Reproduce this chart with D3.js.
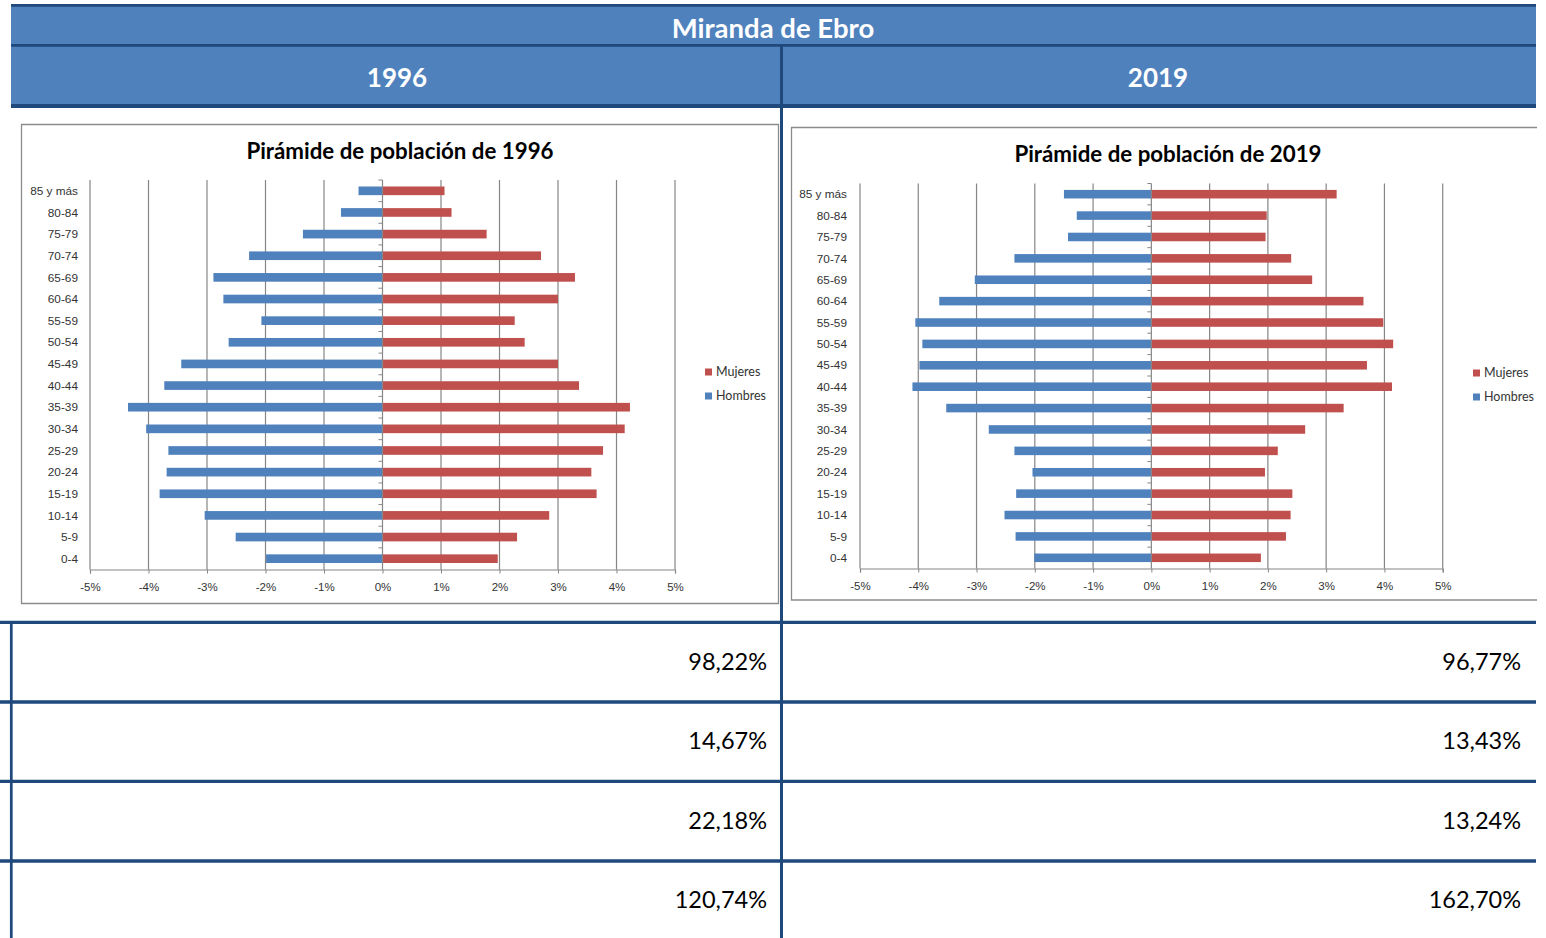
<!DOCTYPE html>
<html>
<head>
<meta charset="utf-8">
<script src="https://cdn.jsdelivr.net/npm/d3@7"></script>
<style>
  body { margin: 0; background: #fff; }
  svg { display: block; font-family: Lato, "Open Sans", sans-serif; }
  .tick text { fill: #333; }
</style>
</head>
<body>
<svg id="chart" width="1546" height="938"></svg>
<script>
// age groups, top to bottom
var ageGroups = ['85 y más', '80-84', '75-79', '70-74', '65-69', '60-64', '55-59', '50-54', '45-49',
  '40-44', '35-39', '30-34', '25-29', '20-24', '15-19', '10-14', '5-9', '0-4'];

// percentages of total population (hombres drawn to the left)
var hombres1996 = [0.41, 0.71, 1.36, 2.28, 2.89, 2.72, 2.07, 2.63, 3.44, 3.73, 4.35, 4.04, 3.66, 3.69, 3.81, 3.04, 2.51, 1.99];
var mujeres1996 = [1.06, 1.18, 1.78, 2.71, 3.29, 3.00, 2.26, 2.43, 3.00, 3.36, 4.23, 4.14, 3.77, 3.57, 3.66, 2.85, 2.30, 1.97];
var hombres2019 = [1.50, 1.28, 1.43, 2.35, 3.03, 3.64, 4.05, 3.93, 3.98, 4.10, 3.52, 2.79, 2.35, 2.04, 2.32, 2.52, 2.33, 2.01];
var mujeres2019 = [3.18, 1.98, 1.96, 2.40, 2.76, 3.64, 3.98, 4.15, 3.70, 4.13, 3.30, 2.64, 2.17, 1.95, 2.42, 2.39, 2.31, 1.88];

var xTicks = [-5, -4, -3, -2, -1, 0, 1, 2, 3, 4, 5];
var seriesNames = ['Mujeres', 'Hombres'];

var years = ['1996', '2019'];
var indicadores1996 = ['98,22%', '14,67%', '22,18%', '120,74%'];
var indicadores2019 = ['96,77%', '13,43%', '13,24%', '162,70%'];

var blue = '#4f81bd', red = '#c0504d', navy = '#1f497d', grid = '#868686';

var svg = d3.select('#chart');

// ---- header bands ----
svg.append('rect').attr('x', 11).attr('y', 4).attr('width', 1525).attr('height', 103).attr('fill', blue);
[[5.3, 2.7], [45.4, 2.7], [106, 4]].forEach(function (l) {
  svg.append('line')
    .attr('x1', 11).attr('x2', 1536).attr('y1', l[0]).attr('y2', l[0])
    .attr('stroke', navy).attr('stroke-width', l[1]);
});

svg.append('text')
  .attr('x', 773).attr('y', 27)
  .attr('text-anchor', 'middle').attr('dominant-baseline', 'central')
  .attr('fill', '#fff').attr('font-weight', 'bold').attr('font-size', 27.5)
  .text('Miranda de Ebro');

svg.append('text')
  .attr('x', 397).attr('y', 77)
  .attr('text-anchor', 'middle').attr('dominant-baseline', 'central')
  .attr('fill', '#fff').attr('font-weight', 'bold').attr('font-size', 26)
  .text(years[0]);

svg.append('text')
  .attr('x', 1158).attr('y', 77)
  .attr('text-anchor', 'middle').attr('dominant-baseline', 'central')
  .attr('fill', '#fff').attr('font-weight', 'bold').attr('font-size', 26)
  .text(years[1]);

// vertical divider
svg.append('line')
  .attr('x1', 781.5).attr('x2', 781.5).attr('y1', 46).attr('y2', 938)
  .attr('stroke', navy).attr('stroke-width', 3);

// ---- pyramids ----
function drawPyramid(opt) {
  var g = svg.append('g');

  g.append('path')
    .attr('d', opt.box)
    .attr('fill', 'none').attr('stroke', '#8c8c8c').attr('stroke-width', 1.3);

  g.append('text')
    .attr('x', opt.titleX).attr('y', opt.titleY)
    .attr('text-anchor', 'middle').attr('dominant-baseline', 'central')
    .attr('font-weight', 'bold').attr('font-size', 22.3).attr('fill', '#000')
    .text('Pirámide de población de ' + opt.year);

  var x = d3.scaleLinear().domain([-5, 5]).range([opt.left, opt.right]);
  var y = d3.scaleBand().domain(ageGroups).range([opt.top, opt.bottom])
    .paddingInner(0.6).paddingOuter(0.3);

  // gridlines
  g.append('g')
    .selectAll('line')
    .data(xTicks.filter(function (d) { return d !== 0; }))
    .enter().append('line')
    .attr('x1', function (d) { return x(d); })
    .attr('x2', function (d) { return x(d); })
    .attr('y1', opt.top).attr('y2', opt.bottom)
    .attr('stroke', grid).attr('stroke-width', 1.2);

  // bars
  g.append('g').selectAll('rect')
    .data(opt.hombres)
    .enter().append('rect')
    .attr('x', function (d) { return x(-d); })
    .attr('y', function (d, i) { return y(ageGroups[i]); })
    .attr('width', function (d) { return x(0) - x(-d); })
    .attr('height', y.bandwidth())
    .attr('fill', blue);

  g.append('g').selectAll('rect')
    .data(opt.mujeres)
    .enter().append('rect')
    .attr('x', x(0))
    .attr('y', function (d, i) { return y(ageGroups[i]); })
    .attr('width', function (d) { return x(d) - x(0); })
    .attr('height', y.bandwidth())
    .attr('fill', red);

  // x axis
  var xAxis = g.append('g')
    .attr('transform', 'translate(0,' + opt.bottom + ')')
    .call(d3.axisBottom(x).tickValues(xTicks).tickSize(4).tickPadding(9)
      .tickFormat(function (d) { return d + '%'; }));
  xAxis.select('.domain').attr('stroke', grid).attr('stroke-width', 1.2);
  xAxis.selectAll('.tick line').attr('stroke', grid);
  xAxis.selectAll('.tick text').attr('font-size', 11.5);

  // vertical axis at 0 with category boundary ticks
  g.append('line')
    .attr('x1', x(0)).attr('x2', x(0)).attr('y1', opt.top).attr('y2', opt.bottom)
    .attr('stroke', grid).attr('stroke-width', 1.2);
  var step = y.step();
  g.append('g').selectAll('line')
    .data(ageGroups)
    .enter().append('line')
    .attr('x1', x(0) - 4).attr('x2', x(0))
    .attr('y1', function (d) { return y(d) - step * 0.3; })
    .attr('y2', function (d) { return y(d) - step * 0.3; })
    .attr('stroke', grid);

  // category labels
  var yAxis = g.append('g')
    .attr('transform', 'translate(' + opt.labelX + ',0)')
    .call(d3.axisLeft(y).tickSize(0).tickPadding(0));
  yAxis.select('.domain').remove();
  yAxis.selectAll('.tick text').attr('font-size', 11.8).attr('dy', '0.35em');

  // legend
  var leg = g.append('g').selectAll('g')
    .data(seriesNames)
    .enter().append('g')
    .attr('transform', function (d, i) { return 'translate(' + opt.legendX + ',' + (opt.legendY + i * 24) + ')'; });
  leg.append('rect')
    .attr('x', 0).attr('y', -3.5).attr('width', 7).attr('height', 7)
    .attr('fill', function (d) { return d === 'Mujeres' ? red : blue; });
  leg.append('text')
    .attr('x', 11).attr('y', 0).attr('dy', '0.35em')
    .attr('font-size', 12.5).attr('fill', '#333')
    .text(function (d) { return d; });
}

drawPyramid({
  year: '1996', hombres: hombres1996, mujeres: mujeres1996,
  box: 'M21.5,124.5H778.5V603.5H21.5Z',
  titleX: 400, titleY: 150,
  left: 90, right: 675, top: 180, bottom: 569.5,
  labelX: 78, legendX: 705, legendY: 372
});

drawPyramid({
  year: '2019', hombres: hombres2019, mujeres: mujeres2019,
  box: 'M1537,127.5H791.5V600H1537',
  titleX: 1168, titleY: 153,
  left: 860, right: 1442.7, top: 183.5, bottom: 568.5,
  labelX: 847, legendX: 1473, legendY: 373
});

// ---- table of indicators ----
[622.3, 702, 781.3, 861].forEach(function (ly) {
  svg.append('line')
    .attr('x1', 0).attr('x2', 1536).attr('y1', ly).attr('y2', ly)
    .attr('stroke', navy).attr('stroke-width', 3.3);
});
svg.append('line')
  .attr('x1', 11.3).attr('x2', 11.3).attr('y1', 621).attr('y2', 938)
  .attr('stroke', navy).attr('stroke-width', 2.7);

var rowY = d3.scaleBand().domain(d3.range(indicadores1996.length)).range([622, 940]);

svg.append('g').selectAll('text')
  .data(indicadores1996)
  .enter().append('text')
  .attr('x', 767)
  .attr('y', function (d, i) { return rowY(i) + rowY.bandwidth() / 2; })
  .attr('dy', '0.35em').attr('text-anchor', 'end')
  .attr('font-size', 23.5).attr('fill', '#000')
  .text(function (d) { return d; });

svg.append('g').selectAll('text')
  .data(indicadores2019)
  .enter().append('text')
  .attr('x', 1521)
  .attr('y', function (d, i) { return rowY(i) + rowY.bandwidth() / 2; })
  .attr('dy', '0.35em').attr('text-anchor', 'end')
  .attr('font-size', 23.5).attr('fill', '#000')
  .text(function (d) { return d; });
</script>
</body>
</html>
